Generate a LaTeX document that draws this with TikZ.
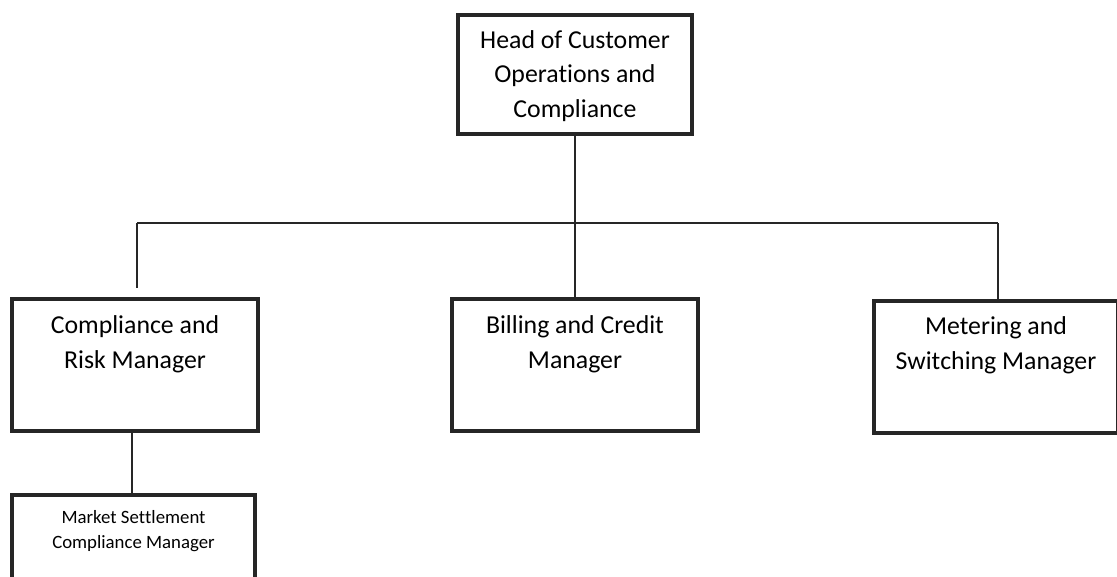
\documentclass[tikz,border=0pt]{standalone}
\usepackage{fontspec}
\setmainfont{Carlito}[Ligatures={NoCommon,NoRare,NoContextual},Contextuals={NoAlternate}]
\newcommand{\nolig}{\kern0pt{}}
\tikzset{
  orgbox/.style={draw=black!85, line width=4pt, inner sep=0pt, fill=white},
  link/.style={draw=black!85, line width=1.6pt},
}
\begin{document}
\begin{tikzpicture}[x=1pt,y=-1pt]
\useasboundingbox (0,0) rectangle (1117,576);
\node[orgbox] (head) at (575,74.5)
  {\parbox[c][119pt][t]{234pt}{\centering\fontsize{25.8}{34.5}\selectfont\rule{0pt}{33pt}Head of Customer\\Operat\nolig ions and\\Compliance}};
\node[orgbox] (comp) at (135,365)
  {\parbox[c][132pt][t]{246pt}{\centering\fontsize{25.8}{35}\selectfont\rule{0pt}{34pt}Compliance and\\Risk Manager}};
\node[orgbox] (bill) at (575,365)
  {\parbox[c][132pt][t]{246pt}{\centering\fontsize{25.8}{35}\selectfont\rule{0pt}{34pt}Billing and Credit\\Manager}};
\node[orgbox] (meter) at (996,367)
  {\parbox[c][132pt][t]{244pt}{\centering\fontsize{25.8}{35}\selectfont\rule{0pt}{33pt}Metering and\\Swit\nolig ching Manager}};
\node[orgbox] (market) at (133.5,552.5)
  {\parbox[c][115pt][t]{243pt}{\centering\fontsize{18.8}{25}\selectfont\rule{0pt}{28pt}Market Set\nolig t\nolig lement\\Compliance Manager}};
\coordinate (hl) at (137,223);
\coordinate (hr) at (998,223);
\coordinate (ld) at (137,288);
\draw[link] (head.south) -- (bill.north);
\draw[link] (hl) -- (hr);
\draw[link] (hl) -- (ld);
\draw[link] (hr) -- (hr |- meter.north);
\draw[link] (132,0 |- comp.south) -- (132,0 |- market.north);
\end{tikzpicture}
\end{document}
